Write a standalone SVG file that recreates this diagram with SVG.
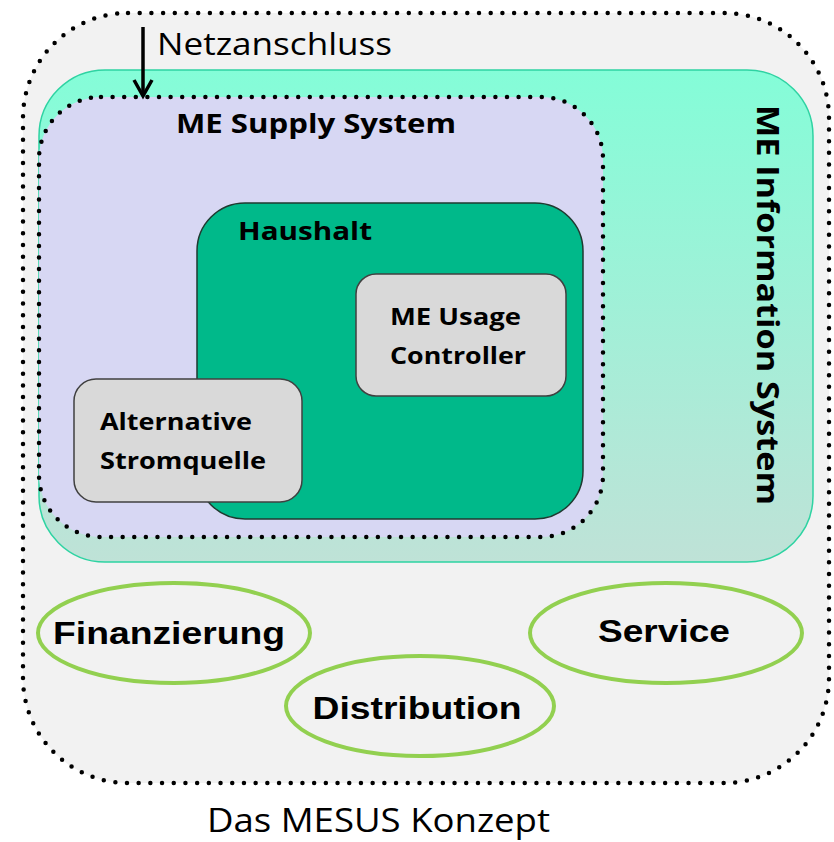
<svg xmlns="http://www.w3.org/2000/svg" width="834" height="842" viewBox="0 0 834 842">
<defs>
<linearGradient id="infoGrad" x1="0" y1="0" x2="0" y2="1">
<stop offset="0" stop-color="#84fdd8"/>
<stop offset="1" stop-color="#bfe2d7"/>
</linearGradient>
<style>
.dots{fill:none;stroke:#000;stroke-linecap:round}
.box{fill:#d9d9d9;stroke:#404040;stroke-width:1.5}
.lbl{font-family:"Open Sans","Noto Sans",sans-serif;font-weight:bold;fill:#000}
.reg{font-family:"Open Sans","Noto Sans",sans-serif;fill:#000}
.oval{fill:none;stroke:#92d050;stroke-width:4}
.ovt{font-family:"Liberation Sans",Arial,sans-serif;font-weight:bold;fill:#000;font-size:31px}
</style>
</defs>
<rect width="834" height="842" fill="#fff"/>
<g id="mesus">
<rect x="23" y="13" width="806" height="770" rx="105" ry="105" fill="#f2f2f2"/>
<rect class="dots" x="23" y="13" width="806" height="770" rx="105" ry="105" stroke-width="4.5" stroke-dasharray="0 11.7"/>
</g>
<g id="info-system">
<rect x="39" y="70" width="774" height="492" rx="66" ry="66" fill="url(#infoGrad)" stroke="#2ed3a2" stroke-width="1.5"/>
<text class="lbl" font-size="31" transform="translate(757,305) rotate(90)" text-anchor="middle" textLength="400" lengthAdjust="spacingAndGlyphs">ME Information System</text>
</g>
<g id="supply-system">
<rect x="39" y="97" width="564" height="440" rx="62" ry="62" fill="#d7d7f3"/>
<rect class="dots" x="39" y="97" width="564" height="440" rx="62" ry="62" stroke-width="4.5" stroke-dasharray="0 11.6"/>
<text class="lbl" x="176" y="133" font-size="27" textLength="280" lengthAdjust="spacingAndGlyphs">ME Supply System</text>
</g>
<g id="haushalt">
<rect x="197" y="203" width="386" height="316" rx="48" ry="48" fill="#00b98a" stroke="#1f3a30" stroke-width="1.5"/>
<text class="lbl" x="238" y="240" font-size="25" textLength="134" lengthAdjust="spacingAndGlyphs">Haushalt</text>
</g>
<g id="usage-controller">
<rect class="box" x="356" y="274" width="210" height="122" rx="20" ry="20"/>
<text class="lbl" x="390" y="325" font-size="24" textLength="131" lengthAdjust="spacingAndGlyphs">ME Usage</text>
<text class="lbl" x="390" y="364" font-size="24" textLength="136" lengthAdjust="spacingAndGlyphs">Controller</text>
</g>
<g id="alt-stromquelle">
<rect class="box" x="74" y="379" width="228" height="123" rx="22" ry="22"/>
<text class="lbl" x="100" y="430" font-size="24" textLength="152" lengthAdjust="spacingAndGlyphs">Alternative</text>
<text class="lbl" x="100" y="469" font-size="24" textLength="166" lengthAdjust="spacingAndGlyphs">Stromquelle</text>
</g>
<g id="connectors">
<line x1="143" y1="27" x2="143" y2="96" stroke="#000" stroke-width="3.5"/>
<polyline points="134,80 143,96 152,80" fill="none" stroke="#000" stroke-width="3.5" stroke-linejoin="miter"/>
<text class="reg" x="157" y="55" font-size="31" textLength="235" lengthAdjust="spacingAndGlyphs">Netzanschluss</text>
</g>
<g id="finanzierung">
<ellipse class="oval" cx="174" cy="633" rx="136" ry="50"/>
<text class="ovt" x="169" y="644" text-anchor="middle" textLength="232" lengthAdjust="spacingAndGlyphs">Finanzierung</text>
</g>
<g id="distribution">
<ellipse class="oval" cx="420" cy="706" rx="134" ry="50"/>
<text class="ovt" x="417" y="719" text-anchor="middle" textLength="209" lengthAdjust="spacingAndGlyphs">Distribution</text>
</g>
<g id="service">
<ellipse class="oval" cx="666" cy="633" rx="136" ry="50"/>
<text class="ovt" x="664" y="642" text-anchor="middle" textLength="132" lengthAdjust="spacingAndGlyphs">Service</text>
</g>
<text class="reg" x="207" y="832" font-size="32" textLength="343" lengthAdjust="spacingAndGlyphs">Das MESUS Konzept</text>
</svg>
